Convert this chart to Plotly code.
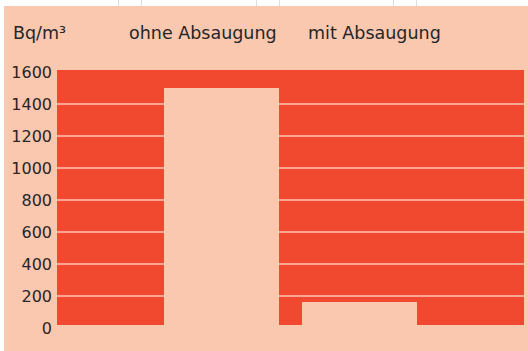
import plotly.graph_objects as go

# Radon concentration in a room, without and with extraction
categories = ["ohne Absaugung", "mit Absaugung"]
values = [1500, 160]
tick_values = [0, 200, 400, 600, 800, 1000, 1200, 1400, 1600]
grid_values = [200, 400, 600, 800, 1000, 1200, 1400]
unit_label = "Bq/m³"

RED = "#F1492F"
PEACH = "#FAC7AF"
TEXT = "#262626"
FONT = "DejaVu Sans"

W, H = 528, 351
ML, MR, MT, MB = 57, 4, 70, 23
PW, PH = W - ML - MR, H - MT - MB


def px_x(p):
    return (p - ML) / PW


def px_y(p):
    return (H - MB - p) / PH


fig = go.Figure()
fig.add_trace(go.Bar(
    x=[0, 1], y=values, width=0.832,
    marker=dict(color=PEACH, line=dict(width=0)),
    hoverinfo="skip", showlegend=False,
))
# empty trace so the overlaid grid axis gets drawn
fig.add_trace(go.Scatter(x=[None], y=[None], yaxis="y2",
                         hoverinfo="skip", showlegend=False))

y_range = [0, 1612]

# Headers above the plot
headers = [(unit_label, 11), (categories[0], 127), (categories[1], 306)]
annotations = [
    dict(text=t, x=px_x(x0), y=px_y(33), xref="paper", yref="paper",
         xanchor="left", yanchor="middle", showarrow=False,
         font=dict(family=FONT, size=17.5, color=TEXT))
    for t, x0 in headers
]

shapes = [
    # thin peach band hiding the very bottom of the red field
    dict(type="rect", xref="paper", yref="y", x0=0, x1=1, y0=0, y1=19,
         fillcolor=PEACH, line=dict(width=0), layer="above"),
    # white page edges
    dict(type="rect", xref="paper", yref="paper", x0=px_x(0), x1=px_x(W),
         y0=px_y(6), y1=px_y(0), fillcolor="white", line=dict(width=0)),
    dict(type="rect", xref="paper", yref="paper", x0=px_x(0), x1=px_x(4),
         y0=px_y(H), y1=px_y(0), fillcolor="white", line=dict(width=0)),
]
for xp in [118, 141, 256, 279, 393, 416]:
    shapes.append(dict(type="line", xref="paper", yref="paper",
                       x0=px_x(xp + 0.5), x1=px_x(xp + 0.5),
                       y0=px_y(6), y1=px_y(0),
                       line=dict(color="#DCDCDC", width=1)))

fig.update_layout(
    width=W, height=H,
    margin=dict(l=ML, r=MR, t=MT, b=MB, pad=0),
    paper_bgcolor=PEACH,
    plot_bgcolor=RED,
    bargap=0,
    xaxis=dict(range=[-1.189, 2.190], showgrid=False, zeroline=False,
               showticklabels=False, showline=False, fixedrange=True),
    yaxis=dict(range=y_range, tickvals=tick_values, showgrid=False,
               zeroline=False, showline=False, ticks="",
               ticklabelstandoff=4,
               tickfont=dict(family=FONT, size=16, color=TEXT)),
    yaxis2=dict(range=y_range, overlaying="y", tickvals=grid_values,
                showgrid=True, gridcolor="rgba(255,255,255,0.5)", gridwidth=1.5,
                showticklabels=False, zeroline=False, showline=False),
    annotations=annotations,
    shapes=shapes,
)

fig.write_html("out.html")
